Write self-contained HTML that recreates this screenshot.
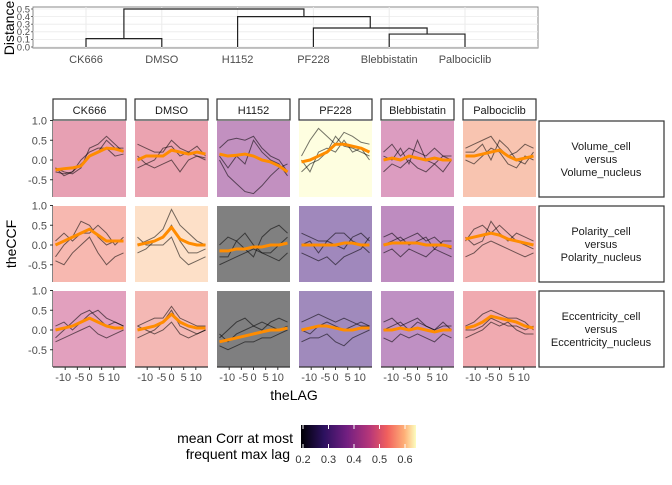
<!DOCTYPE html>
<html><head><meta charset="utf-8"><style>
body{margin:0;background:#fff;font-family:"Liberation Sans",sans-serif}
svg text{font-family:"Liberation Sans",sans-serif}
</style></head><body>
<svg id="chart" width="672" height="480" viewBox="0 0 672 480" xmlns="http://www.w3.org/2000/svg">
<defs><linearGradient id="magma" x1="0" x2="1" y1="0" y2="0">
<stop offset="0" stop-color="#000004"/><stop offset="0.2" stop-color="#2c115f"/><stop offset="0.4" stop-color="#721f81"/><stop offset="0.6" stop-color="#b73779"/><stop offset="0.75" stop-color="#f1605d"/><stop offset="0.9" stop-color="#feb078"/><stop offset="1" stop-color="#fcfdbf"/></linearGradient></defs>
<g id="dendro"></g>
<g id="facets"></g>
<g id="legend"></g>
</svg>
<script>
const NS="http://www.w3.org/2000/svg";
const treatments=["CK666","DMSO","H1152","PF228","Blebbistatin","Palbociclib"];
const rowLabels=[["Volume_cell","versus","Volume_nucleus"],["Polarity_cell","versus","Polarity_nucleus"],["Eccentricity_cell","versus","Eccentricity_nucleus"]];
const lags=[-14,-10.5,-7,-3.5,0,3.5,7,10.5,14];
const fillColors=[
["#e7a0b3","#eba3b0","#c290c0","#fefee0","#dc9cc0","#f8c4b0"],
["#f7b8b0","#fde0c8","#808080","#a088bc","#be8cc0","#f4b4b4"],
["#e2a0be","#f4b8b4","#7f7f80","#a08abc","#bf90c3","#f0aab0"]];
const meanCurves=[
[[-0.25,-0.22,-0.2,-0.15,0.1,0.2,0.3,0.28,0.22],[0,0.1,0.1,0.1,0.25,0.2,0.15,0.2,0.15],[0.15,0.1,0.12,0.15,0.1,0,-0.05,-0.15,-0.3],[-0.05,0,0.1,0.2,0.4,0.4,0.35,0.3,0.2],[0,0.05,0,0.1,0.05,0,0.05,0,0],[0.1,0.1,0.15,0.2,0.25,0.1,0,0.05,0.1]],
[[0,0.1,0.2,0.3,0.4,0.25,0.1,0.1,0.1],[0,0.05,0.1,0.2,0.45,0.15,0.05,0,0],[-0.15,-0.15,-0.1,-0.1,-0.05,-0.05,0,0,0.05],[0,0,0,0,0,0.05,0.05,0,0],[0,0.05,0.05,0.05,0.05,0,0,0,-0.05],[0.15,0.2,0.25,0.3,0.25,0.15,0.1,0.05,0]],
[[0,0.05,0.1,0.2,0.3,0.2,0.1,0.05,0.05],[0,0.05,0.1,0.2,0.4,0.2,0.1,0.05,0.05],[-0.3,-0.25,-0.2,-0.15,-0.1,-0.05,0,0,0.05],[0,0.05,0.1,0.1,0.05,0,0,0.05,0.05],[0,0,0.05,0,0.05,0,-0.05,0,0],[0.05,0.1,0.2,0.35,0.3,0.25,0.2,0.1,0.05]]];
const traceCurves=[
[[[-0.2,-0.3,-0.35,-0.2,0.3,0.4,0.6,0.4,0.2],[-0.3,-0.35,-0.3,-0.1,0.1,0.2,0.5,0.3,0.3],[-0.2,-0.4,-0.3,0,0.2,0.3,0.3,0.1,0.15]],
 [[0.4,0.3,0.2,0.2,0.5,0.3,0.2,0.35,0.1],[-0.2,-0.1,0,0.3,0.35,0.1,0.2,0.1,0],[0.1,-0.1,-0.2,-0.1,0,-0.3,0,0.1,0.05]],
 [[0.3,0.5,0.55,0.5,0.6,0.3,0.1,0,-0.3],[0.1,-0.2,0.1,-0.1,0.5,0.2,0,-0.1,-0.4],[0,-0.4,-0.6,-0.8,-0.85,-0.65,-0.4,-0.2,-0.1]],
 [[0.1,0.5,0.8,0.6,0.4,0.7,0.6,0.45,0.4],[-0.3,-0.1,0,0.2,0.6,0.35,0.3,0.2,0.1],[0,-0.3,0.2,0.3,0.2,0.5,0.2,0.3,0]],
 [[0.2,0.4,0.1,0.3,0.2,0.1,0.3,0.1,0],[-0.3,-0.1,-0.2,0,-0.2,-0.3,-0.1,-0.3,0],[0.1,0,0.3,-0.1,0.5,0,-0.1,0.1,0.1]],
 [[0.3,0.4,0.5,0.6,0.3,0.1,0.2,0.4,0.3],[0,-0.1,0.1,0.3,0.2,-0.1,-0.2,0.1,0],[0.2,0.2,0.4,0,0.5,0.3,0,-0.1,0.2]]],
[[[-0.3,0,0.2,0.6,0.5,0.2,0,0.1,0.1],[0.1,0.3,0.1,0.3,0.3,0.5,0.3,0,0.2],[-0.4,-0.5,-0.2,0,0.2,-0.2,-0.5,-0.3,-0.2]],
 [[0,0.1,0.2,0.4,0.9,0.5,0.3,0.1,0],[-0.2,-0.1,0.1,0.2,0.5,0.1,-0.2,-0.2,-0.1],[0.2,0,0,0,0.2,-0.3,-0.5,-0.4,-0.3]],
 [[-0.3,-0.3,0.1,0.3,0,-0.2,-0.2,0,0.2],[0,0.2,0.1,-0.1,-0.3,0.2,0.4,0.5,0.3],[-0.5,-0.4,-0.3,-0.2,-0.1,-0.2,-0.3,-0.4,-0.2]],
 [[0.3,0.2,0.1,0.1,0.3,0.3,0.1,0,-0.2],[-0.2,-0.3,-0.4,-0.3,-0.5,-0.3,-0.2,-0.1,0.2],[0,0.1,-0.2,0.1,0,-0.1,0.2,0.3,0.1]],
 [[0.2,0.3,0.1,0.2,0.3,0.1,0.2,0,-0.1],[-0.2,-0.1,-0.3,-0.1,-0.2,-0.3,-0.1,-0.2,-0.3],[0,0.1,0.2,0,0.1,0.2,-0.1,0.1,0.1]],
 [[0.1,0.4,0.5,0.3,0.5,0.3,0.1,0,-0.1],[0.2,0,0.1,0.6,0.3,0.1,0.3,0.2,0.1],[-0.3,-0.2,0,0.1,0,-0.1,-0.2,-0.3,-0.2]]],
[[[-0.2,0,0.2,0.4,0.5,0.3,0.1,0.2,0.1],[0.1,0.2,0,0.2,0.4,0.5,0.3,0.2,0.1],[-0.3,-0.2,-0.1,0,0.1,-0.1,-0.2,-0.1,0]],
 [[0.1,0.2,0.3,0.3,0.6,0.3,0.2,0.1,0.1],[-0.2,-0.1,0,0.2,0.5,0.1,0,-0.1,0],[0.1,0,-0.1,0,0.2,-0.1,-0.2,-0.1,0]],
 [[-0.2,0,0.2,0.3,0.1,0,0.2,0.3,0.2],[-0.4,-0.5,-0.4,-0.3,-0.3,-0.2,-0.2,-0.1,0],[-0.1,-0.3,-0.1,0,0.1,0.2,0.1,0,0.1]],
 [[0.2,0.3,0.4,0.3,0.2,0.3,0.2,0.1,0.1],[-0.3,-0.2,-0.2,-0.1,-0.3,-0.4,-0.2,-0.1,0],[0,-0.1,0.1,0.2,0.1,0,0.1,0.2,0.1]],
 [[0.2,0.3,0.1,0.2,0.3,0.1,0,0.1,0.1],[-0.2,-0.3,-0.1,-0.2,-0.1,-0.2,-0.3,-0.1,-0.2],[0,0.1,0.2,0,0.2,0.1,0,0.2,0]],
 [[0.1,0.2,0.4,0.5,0.4,0.3,0.3,0.2,0],[0,0,0.1,0.3,0.2,0.1,0.1,0,0.1],[-0.2,-0.1,0,0.2,0.1,0.2,0,-0.1,-0.1]]]];
const yTicks=[1.0,0.5,0.0,-0.5];
const xTicks=[-10,-5,0,5,10];
const dendroYTicks=[0.0,0.1,0.2,0.3,0.4,0.5];
const mergeHeights=[0.11,0.17,0.25,0.4,0.5];
const legendTicks=[0.2,0.3,0.4,0.5,0.6];

function el(tag,attrs,parent,text){const e=document.createElementNS(NS,tag);for(const k in attrs)e.setAttribute(k,attrs[k]);if(text!==undefined)e.textContent=text;parent.appendChild(e);return e;}

const dg=document.getElementById('dendro');
const dL=33,dR=538,dT=7,dB=48;
const dy=v=>47-v*76;
const leafX=i=>86+i*75.8;
el('rect',{x:dL,y:dT,width:dR-dL,height:dB-dT,fill:'#fff',stroke:'#888','stroke-width':1},dg);
dendroYTicks.forEach(t=>{el('line',{x1:dL,x2:dR,y1:dy(t),y2:dy(t),stroke:'#ebebeb','stroke-width':0.8},dg);
 el('line',{x1:dL-2,x2:dL,y1:dy(t),y2:dy(t),stroke:'#555','stroke-width':0.8},dg);
 const tl=el('text',{x:dL-3,y:dy(t)+3.3,'text-anchor':'end','font-size':9.5,fill:'#4d4d4d'},dg,t.toFixed(1));
 
 });
treatments.forEach((t,i)=>{el('line',{x1:leafX(i),x2:leafX(i),y1:dT,y2:dB,stroke:'#ebebeb','stroke-width':1},dg);
 const tl=el('text',{x:leafX(i),y:63,'text-anchor':'middle','font-size':11,fill:'#4d4d4d'},dg,t);
 
 });
function link(x1,h1,x2,h2,h){el('path',{d:`M${x1},${dy(h1)}V${dy(h)}H${x2}V${dy(h2)}`,fill:'none',stroke:'#222','stroke-width':1.2},dg);}
const a=(leafX(0)+leafX(1))/2; link(leafX(0),0,leafX(1),0,mergeHeights[0]);
const b=(leafX(4)+leafX(5))/2; link(leafX(4),0,leafX(5),0,mergeHeights[1]);
const c=(leafX(3)+b)/2; link(leafX(3),0,b,mergeHeights[1],mergeHeights[2]);
const d=(leafX(2)+c)/2; link(leafX(2),0,c,mergeHeights[2],mergeHeights[3]);
link(a,mergeHeights[0],d,mergeHeights[3],mergeHeights[4]);
const dt=el('text',{x:14,y:28,'text-anchor':'middle','font-size':14,transform:'rotate(-90 14 28)'},dg,'Distance');


const fg=document.getElementById('facets');
const colX=[53,135,217,299,381,463], pw=73;
const rowY=[121,206,291], ph=76;
treatments.forEach((t,ci)=>{
 const s=el('rect',{x:colX[ci],y:99,width:pw,height:21,fill:'#fff',stroke:'#333','stroke-width':1.2},fg);
 
 el('text',{x:colX[ci]+pw/2,y:114,'text-anchor':'middle','font-size':11,fill:'#1a1a1a'},fg,t);
});
rowY.forEach((ry,ri)=>{
 const s=el('rect',{x:539,y:ry,width:125,height:ph,fill:'#fff',stroke:'#333','stroke-width':1.2},fg);
 
 rowLabels[ri].forEach((l,k)=>el('text',{x:601,y:ry+ph/2-9+k*13,'text-anchor':'middle','font-size':11,fill:'#1a1a1a'},fg,l));
 yTicks.forEach(t=>{const yy=ry+39-t*39.5;
  el('line',{x1:50,x2:53,y1:yy,y2:yy,stroke:'#333'},fg);
  el('text',{x:47,y:yy+4,'text-anchor':'end','font-size':11,fill:'#4d4d4d'},fg,t.toFixed(1));});
 el('line',{x1:53,x2:53,y1:ry,y2:ry+ph,stroke:'#333','stroke-width':1.2},fg);
 treatments.forEach((t,ci)=>{
  const x0=colX[ci];
  const xs=v=>x0+pw/2+v*2.43, ys=v=>ry+39-v*39.5;
  const p=el('rect',{x:x0,y:ry,width:pw,height:ph,fill:fillColors[ri][ci]},fg);
  
  
  traceCurves[ri][ci].forEach(tr=>{
   const l=el('polyline',{points:tr.map((v,k)=>xs(lags[k])+','+ys(v)).join(' '),fill:'none',stroke:'#000','stroke-opacity':0.55,'stroke-width':1},fg);
   
   
  });
  const m=el('polyline',{points:meanCurves[ri][ci].map((v,k)=>xs(lags[k])+','+ys(v)).join(' '),fill:'none',stroke:'#ff8c00','stroke-width':3,'stroke-linejoin':'round'},fg);
  
  
  if(ri===2){
   el('line',{x1:x0,x2:x0+pw,y1:ry+ph,y2:ry+ph,stroke:'#333','stroke-width':1.2},fg);
   xTicks.forEach(v=>{el('line',{x1:xs(v),x2:xs(v),y1:ry+ph,y2:ry+ph+3,stroke:'#333'},fg);
    el('text',{x:xs(v)+(v===-10?-2:v===-5?2:0),y:ry+ph+14,'text-anchor':'middle','font-size':11,fill:'#4d4d4d'},fg,String(v));});
  }
 });
});
const xt=el('text',{x:294,y:400,'text-anchor':'middle','font-size':14},fg,'theLAG');

const yt=el('text',{x:16,y:244,'text-anchor':'middle','font-size':14,transform:'rotate(-90 16 244)'},fg,'theCCF');


const lg=document.getElementById('legend');
const lx=v=>301+(v-0.2)/0.4*102+2;
el('rect',{x:301,y:425,width:115,height:23,fill:'url(#magma)'},lg);
legendTicks.forEach(t=>{el('line',{x1:lx(t),x2:lx(t),y1:425,y2:429,stroke:'#fff'},lg);el('line',{x1:lx(t),x2:lx(t),y1:444,y2:448,stroke:'#fff'},lg);
 el('text',{x:lx(t),y:463,'text-anchor':'middle','font-size':11,fill:'#333'},lg,t.toFixed(1));});
el('text',{x:293,y:443,'text-anchor':'end','font-size':14},lg,'mean Corr at most');
el('text',{x:290,y:459,'text-anchor':'end','font-size':14},lg,'frequent max lag');
</script>
</body></html>
